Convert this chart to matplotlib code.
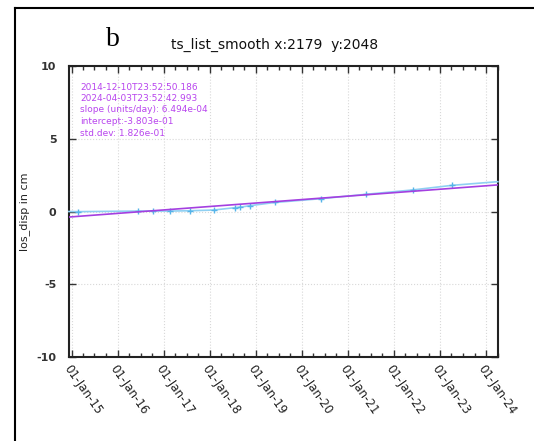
import matplotlib
matplotlib.use("Agg")
import matplotlib.pyplot as plt
import matplotlib.dates as mdates
import numpy as np
import datetime as dt

# data
dates = ["2014-12-10", "2015-02-24", "2016-06-13", "2016-10-05", "2017-02-17",
         "2017-07-24", "2018-01-30", "2018-07-16", "2018-09-01", "2018-11-14",
         "2019-05-30", "2020-05-30", "2021-05-20", "2022-05-27", "2023-04-08",
         "2024-04-03"]
values = [0.0, -0.01, 0.03, 0.03, 0.03, 0.05, 0.1, 0.26, 0.3, 0.4,
          0.62, 0.88, 1.18, 1.48, 1.8, 2.05]
slope_per_day = 6.494e-04
intercept = -3.803e-01
info_lines = ["2014-12-10T23:52:50.186", "2024-04-03T23:52:42.993",
              "slope (units/day): 6.494e-04", "intercept:-3.803e-01",
              "std.dev: 1.826e-01"]
title = "ts_list_smooth x:2179  y:2048"
ylabel = "los_disp in cm"
yticks = [-10, -5, 0, 5, 10]

d = [dt.datetime.strptime(s, "%Y-%m-%d") for s in dates]
start = dt.datetime(2014, 12, 10, 23, 52, 50)
end = dt.datetime(2024, 4, 3, 23, 52, 42)

fig = plt.figure(figsize=(5.34, 4.41), dpi=100)
ax = fig.add_axes([69/534, 1-357/441, (498-69)/534, (357-66)/441])

# fit line
fit_x = [start, end]
days = np.array([(t - start).total_seconds()/86400 for t in fit_x])
fit_y = slope_per_day*days + intercept

ax.plot(d, values, color="#8fd0f2", lw=1.2, marker="+", ms=5,
        mec="#56b4e9", mew=1.0, clip_on=False, zorder=3,
        markevery=list(range(1, len(values) - 1)))
ax.plot(fit_x, fit_y, color="#a43fe0", lw=1.2, zorder=4)

ax.set_xlim(start, end)
ax.set_ylim(-10, 10)
ax.set_yticks(yticks)
ax.set_yticklabels([str(v) for v in yticks], fontsize=8, fontweight="bold", color="#333333")
ax.xaxis.set_major_locator(mdates.YearLocator())
ax.xaxis.set_minor_locator(mdates.MonthLocator(bymonth=[4, 7, 10]))
ax.xaxis.set_major_formatter(mdates.DateFormatter("%d-%b-%y"))
for lab in ax.get_xticklabels():
    lab.set_rotation(-55)
    lab.set_ha("left")
    lab.set_va("top")
    lab.set_rotation_mode("anchor")
    lab.set_fontsize(8.5)
    lab.set_color("#222222")

ax.tick_params(axis="both", which="both", direction="in", top=True, right=True)
ax.tick_params(axis="both", which="major", length=5, width=1, color="#333333")
ax.tick_params(axis="x", which="minor", length=3, width=1, color="#333333")
ax.tick_params(axis="x", which="major", pad=4)
ax.tick_params(axis="y", which="major", pad=9)
ax.grid(True, which="major", color="#d8d8d8", linestyle=":", lw=0.8)
for sp in ax.spines.values():
    sp.set_linewidth(1.5)
    sp.set_color("#222222")

ax.set_ylabel(ylabel, fontsize=8, color="#222222")
ax.yaxis.set_label_coords((30-69)/429, 0.5)

for i, line in enumerate(info_lines):
    fig.text(80/534, 1-(87+i*11.5)/441, line, fontsize=6.5, color="#b845ee",
             va="center", ha="left")

fig.text(275/534, 1-45/441, title, fontsize=10, ha="center", va="center", color="#111111")
fig.text(113/534, 1-40/441, "b", fontsize=20, ha="center", va="center",
         family="Liberation Serif", color="black")

# outer frame (left and top edges)
fig.add_artist(plt.Line2D([15/534, 15/534], [0, 1-8/441], transform=fig.transFigure,
                          color="black", lw=1.5))
fig.add_artist(plt.Line2D([15/534, 1], [1-8/441, 1-8/441], transform=fig.transFigure,
                          color="black", lw=1.5))

fig.savefig("out.png", dpi=100)
